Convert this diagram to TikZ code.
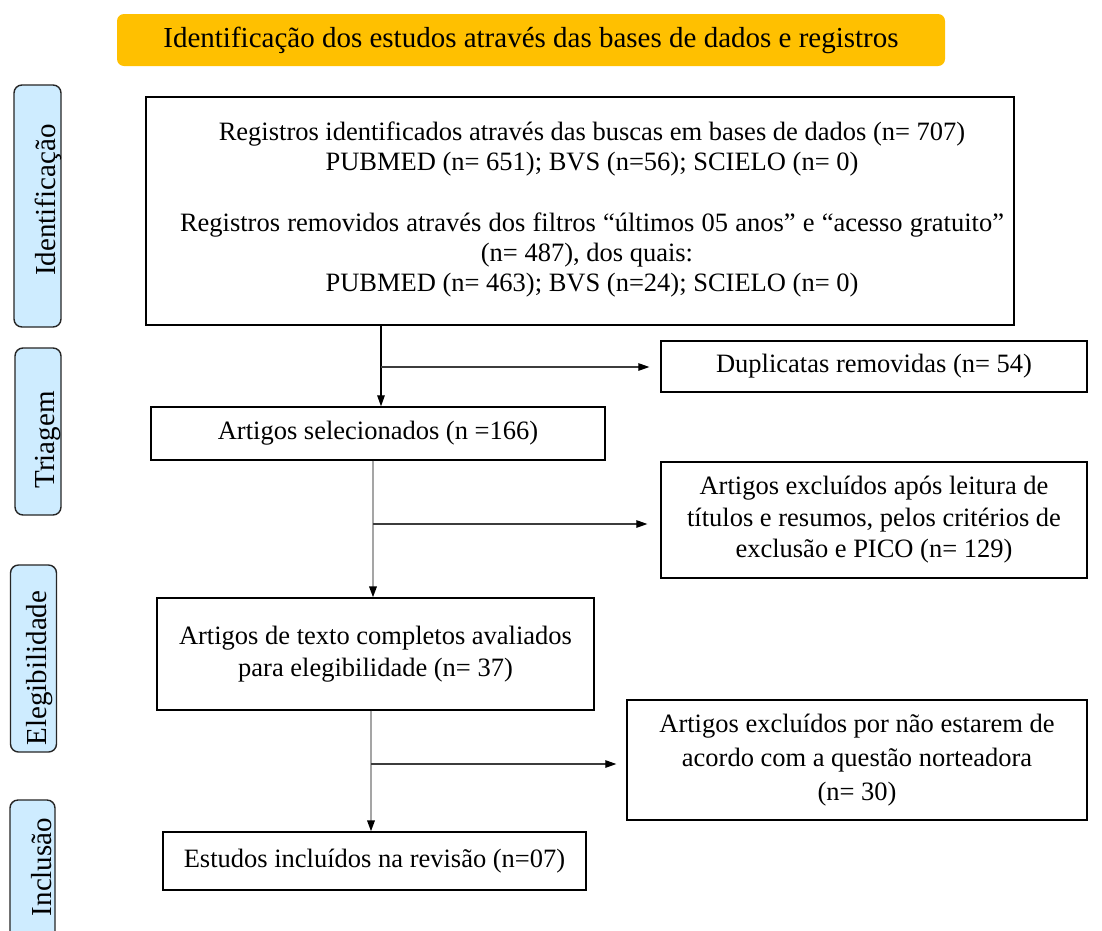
\documentclass[tikz,border=0pt]{standalone}
\usepackage{fontspec}
\setmainfont{Liberation Serif}
\usetikzlibrary{arrows.meta}
\definecolor{banner}{RGB}{255,192,0}
\definecolor{sideblue}{RGB}{206,236,255}
\definecolor{lgray}{RGB}{165,165,165}
\definecolor{dgray}{RGB}{60,60,60}
\begin{document}
\begin{tikzpicture}[x=1pt,y=-1pt,
  every node/.style={font=\fontsize{26.5}{29}\selectfont, inner sep=0pt},
  box/.style={draw=black, line width=1.3pt, fill=white, align=center},
  sidebox/.style={draw=black!85, line width=1.4pt, fill=sideblue, rounded corners=8pt},
  sidetext/.style={font=\fontsize{29}{30}\selectfont, rotate=90},
  tip/.style={-{Triangle[length=11pt,width=7.5pt,color=black]}},
  vline/.style={tip, line width=1.2pt},
  hline/.style={tip, line width=1.1pt, draw=dgray, shorten >=11pt}]
\useasboundingbox[fill=white] (0,0) rectangle (1102,930);

% banner
\node[fill=banner, rounded corners=7pt, minimum width=828pt, minimum height=52pt, font=\fontsize{29}{30}\selectfont] (title) at (531,40) {Identificação dos estudos através das bases de dados e registros};

% side labels
\node[sidebox, minimum width=47pt, minimum height=242pt] (s1) at (37.5,206) {};
\node[sidetext] (t1) at (48,200) {Identificação};
\node[sidebox, minimum width=46pt, minimum height=167pt] (s2) at (38,431.5) {};
\node[sidetext] (t2) at (48,440) {Triagem};
\node[sidebox, minimum width=46pt, minimum height=187pt] (s3) at (33.5,658.5) {};
\node[sidetext] (t3) at (40,668) {Elegibilidade};
\node[sidebox, minimum width=45pt, minimum height=150pt] (s4) at (32.5,875) {};
\node[sidetext] (t4) at (42,867) {Inclusão};

% main boxes
\node[box, minimum width=868pt, minimum height=228pt] (b1) at (580,211) {};
\node[align=center, font=\fontsize{26.5}{30}\selectfont] (b1t) at (592,209) {Registros identificados através das buscas em bases de dados (n= 707)\\
PUBMED (n= 651); BVS (n=56); SCIELO (n= 0)\\[31pt]
\makebox[824pt][s]{Registros removidos através dos filtros “últimos 05 anos” e “acesso gratuito”}\\
\hspace*{-10pt}(n= 487), dos quais:\\
PUBMED (n= 463); BVS (n=24); SCIELO (n= 0)};

\node[box, minimum width=426pt, minimum height=51pt] (dup) at (874,366.5) {Duplicatas removidas (n= 54)};
\node[box, minimum width=454pt, minimum height=53pt] (sel) at (378,433.5) {Artigos selecionados (n =166)};
\node[box, minimum width=426pt, minimum height=116pt, font=\fontsize{26.5}{31.5}\selectfont] (exc1) at (874,520) {Artigos excluídos após leitura de\\títulos e resumos, pelos critérios de\\exclusão e PICO (n= 129)};
\node[box, minimum width=437pt, minimum height=112pt, font=\fontsize{26.5}{32}\selectfont] (full) at (375.5,654) {Artigos de texto completos avaliados\\para elegibilidade (n= 37)};
\node[box, minimum width=460pt, minimum height=120pt, font=\fontsize{26.5}{34}\selectfont] (exc2) at (857,760) {Artigos excluídos por não estarem de\\acordo com a questão norteadora\\(n= 30)};
\node[box, minimum width=423pt, minimum height=58pt] (inc) at (374.5,861) {Estudos incluídos na revisão (n=07)};

% connectors
\coordinate (v1) at (381,0);
\coordinate (v2) at (373,0);
\coordinate (v3) at (371,0);
\coordinate (h1) at (381,367);
\coordinate (h2) at (373,524);
\coordinate (h3) at (371,764);
\draw[vline, draw=black] (b1.south -| v1) -- (sel.north -| v1);
\draw[hline] (h1) -- (h1 -| dup.west);
\draw[vline, draw=lgray, line width=1.8pt] (sel.south -| v2) -- (full.north -| v2);
\draw[hline, shorten >=13pt] (h2) -- (h2 -| exc1.west);
\draw[vline, draw=lgray, line width=1.8pt] (full.south -| v3) -- (inc.north -| v3);
\draw[hline, shorten >=10pt] (h3) -- (h3 -| exc2.west);
\end{tikzpicture}
\end{document}
